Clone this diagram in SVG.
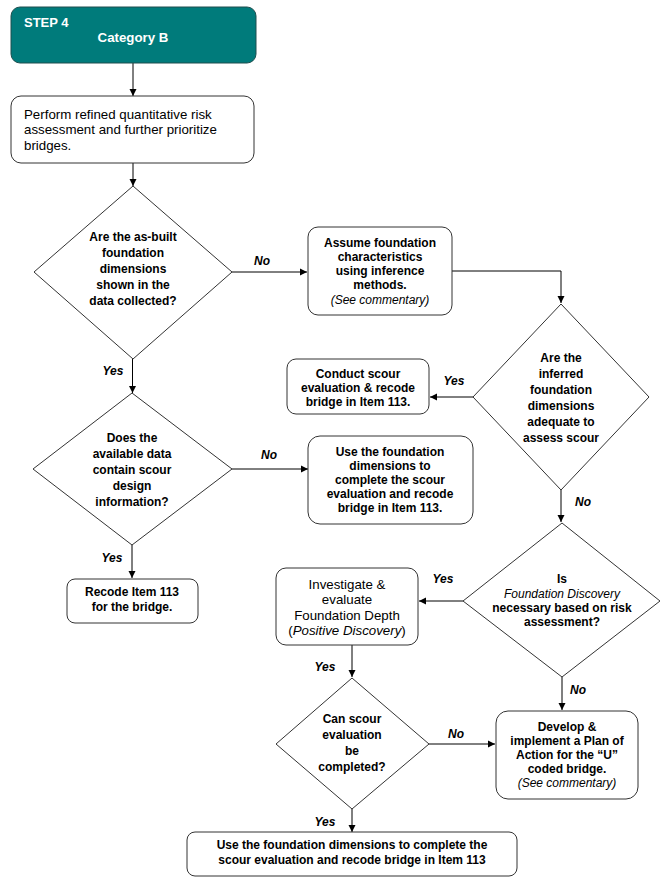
<svg xmlns="http://www.w3.org/2000/svg" width="665" height="888" viewBox="0 0 665 888">
<style>
.bx{fill:#fff;stroke:#333;stroke-width:1}
.dm{fill:#fff;stroke:#333;stroke-width:1}
.b{font-family:"Liberation Sans",Arial,sans-serif;font-size:12px;font-weight:bold;fill:#000;text-anchor:middle}
.r{font-family:"Liberation Sans",Arial,sans-serif;font-size:13.3px;fill:#000}
.it{font-family:"Liberation Sans",Arial,sans-serif;font-size:12px;font-style:italic;fill:#000;text-anchor:middle}
.lb{font-family:"Liberation Sans",Arial,sans-serif;font-size:12px;font-style:italic;font-weight:bold;fill:#000;text-anchor:middle}
.c{fill:none;stroke:#000;stroke-width:1;marker-end:url(#ah)}
</style>
<defs>
<marker id="ah" markerUnits="userSpaceOnUse" markerWidth="8" markerHeight="8" refX="7" refY="4" orient="auto">
<path d="M0,0.5 L7,4 L0,7.5 Z" fill="#000"/>
</marker>
</defs>
<rect width="665" height="888" fill="#fff"/>
<g id="connectors">
<path class="c" d="M133,63 V96"/>
<path class="c" d="M133,163 V186"/>
<path class="c" d="M232,272 H307"/>
<path class="c" d="M452,271 H561 V303"/>
<path class="c" d="M473,397 H430"/>
<path class="c" d="M132.5,359 V393"/>
<path class="c" d="M232,469 H308"/>
<path class="c" d="M132,545 V578"/>
<path class="c" d="M561,490 V522"/>
<path class="c" d="M463,601 H419"/>
<path class="c" d="M352,645 V677"/>
<path class="c" d="M429,744 H495"/>
<path class="c" d="M562,677 V710"/>
<path class="c" d="M352,809 V832"/>
<text class="lb" x="262" y="265">No</text>
<text class="lb" x="113" y="375">Yes</text>
<text class="lb" x="454" y="385">Yes</text>
<text class="lb" x="269" y="459">No</text>
<text class="lb" x="112" y="562">Yes</text>
<text class="lb" x="583" y="506">No</text>
<text class="lb" x="443" y="583">Yes</text>
<text class="lb" x="325" y="671">Yes</text>
<text class="lb" x="456" y="738">No</text>
<text class="lb" x="578" y="694">No</text>
<text class="lb" x="325" y="826">Yes</text>
</g>
<g id="step4">
<rect x="11" y="7" width="245" height="56" rx="9" fill="#007b7b" stroke="#1f4f4f" stroke-width="1"/>
<text x="24" y="27" font-family="Liberation Sans,Arial,sans-serif" font-size="13" font-weight="bold" fill="#fff">STEP 4</text>
<text x="133" y="42" font-family="Liberation Sans,Arial,sans-serif" font-size="13.3" font-weight="bold" fill="#fff" text-anchor="middle">Category B</text>
</g>
<g id="perform">
<rect class="bx" x="11" y="96" width="243" height="67" rx="10"/>
<text class="r" x="24" y="119">Perform refined quantitative risk</text>
<text class="r" x="24" y="134">assessment and further prioritize</text>
<text class="r" x="24" y="150">bridges.</text>
</g>
<g id="d1">
<polygon class="dm" points="133,186 232,272 133,359 34,272"/>
<text class="b" x="133" y="241">Are the as-built</text>
<text class="b" x="133" y="257">foundation</text>
<text class="b" x="133" y="273">dimensions</text>
<text class="b" x="133" y="289">shown in the</text>
<text class="b" x="133" y="305">data collected?</text>
</g>
<g id="assume">
<rect class="bx" x="308" y="227" width="144" height="88" rx="10"/>
<text class="b" x="380" y="247">Assume foundation</text>
<text class="b" x="380" y="261">characteristics</text>
<text class="b" x="380" y="275">using inference</text>
<text class="b" x="380" y="289">methods.</text>
<text class="it" x="380" y="304">(See commentary)</text>
</g>
<g id="d2">
<polygon class="dm" points="561,304 649,397 561,490 473,397"/>
<text class="b" x="561" y="362">Are the</text>
<text class="b" x="561" y="378">inferred</text>
<text class="b" x="561" y="394">foundation</text>
<text class="b" x="561" y="410">dimensions</text>
<text class="b" x="561" y="426">adequate to</text>
<text class="b" x="561" y="442">assess scour</text>
</g>
<g id="conduct">
<rect class="bx" x="287" y="359" width="142" height="55" rx="9"/>
<text class="b" x="358" y="378">Conduct scour</text>
<text class="b" x="358" y="392">evaluation &amp; recode</text>
<text class="b" x="358" y="406">bridge in Item 113.</text>
</g>
<g id="d3">
<polygon class="dm" points="132,393 232,469 132,545 33,469"/>
<text class="b" x="132" y="442">Does the</text>
<text class="b" x="132" y="458">available data</text>
<text class="b" x="132" y="474">contain scour</text>
<text class="b" x="132" y="490">design</text>
<text class="b" x="132" y="506">information?</text>
</g>
<g id="use1">
<rect class="bx" x="308" y="436" width="165" height="88" rx="12"/>
<text class="b" x="390" y="456">Use the foundation</text>
<text class="b" x="390" y="470">dimensions to</text>
<text class="b" x="390" y="484">complete the scour</text>
<text class="b" x="390" y="498">evaluation and recode</text>
<text class="b" x="390" y="512">bridge in Item 113.</text>
</g>
<g id="recode">
<rect class="bx" x="67" y="579" width="131" height="44" rx="8"/>
<text class="b" x="132" y="596">Recode Item 113</text>
<text class="b" x="132" y="611">for the bridge.</text>
</g>
<g id="d4">
<polygon class="dm" points="562,523 660,601 562,677 463,601"/>
<text class="b" x="562" y="583">Is</text>
<text class="it" x="562" y="598">Foundation Discovery</text>
<text class="b" x="562" y="612">necessary based on risk</text>
<text class="b" x="562" y="626">assessment?</text>
</g>
<g id="investigate">
<rect class="bx" x="276" y="568" width="142" height="77" rx="10"/>
<text class="r" x="347" y="589" text-anchor="middle">Investigate &amp;</text>
<text class="r" x="347" y="604" text-anchor="middle">evaluate</text>
<text class="r" x="347" y="620" text-anchor="middle">Foundation Depth</text>
<text class="r" x="347" y="635" text-anchor="middle">(<tspan font-style="italic">Positive Discovery</tspan>)</text>
</g>
<g id="d5">
<polygon class="dm" points="352,678 429,744 352,809 276,744"/>
<text class="b" x="352" y="723">Can scour</text>
<text class="b" x="352" y="739">evaluation</text>
<text class="b" x="352" y="755">be</text>
<text class="b" x="352" y="771">completed?</text>
</g>
<g id="develop">
<rect class="bx" x="496" y="711" width="142" height="88" rx="12"/>
<text class="b" x="567" y="731">Develop &amp;</text>
<text class="b" x="567" y="745">implement a Plan of</text>
<text class="b" x="567" y="759">Action for the “U”</text>
<text class="b" x="567" y="773">coded bridge.</text>
<text class="it" x="567" y="787">(See commentary)</text>
</g>
<g id="final">
<rect class="bx" x="187" y="832" width="330" height="44" rx="8"/>
<text class="b" x="352" y="849">Use the foundation dimensions to complete the</text>
<text class="b" x="352" y="864">scour evaluation and recode bridge in Item 113</text>
</g>
</svg>
